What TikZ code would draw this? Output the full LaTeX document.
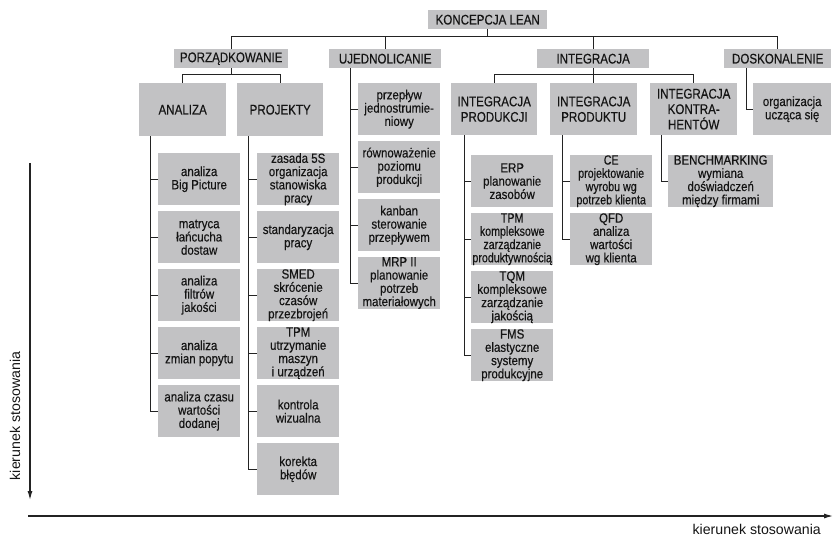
\documentclass[tikz,border=0pt]{standalone}
\usepackage{fontspec}
\setmainfont{Liberation Sans}[FakeStretch=0.86,FakeBold=0.3]
\newfontfamily\narrowfont{Liberation Sans}[FakeStretch=0.80,FakeBold=0.3]
\newfontfamily\capsfont{Liberation Sans}[FakeStretch=0.83,FakeBold=0.3]
\newfontfamily\lblfont{Liberation Sans}
\usetikzlibrary{arrows.meta,calc}
\definecolor{boxgray}{RGB}{194,194,196}
\definecolor{ink}{RGB}{20,20,20}
\definecolor{linec}{RGB}{35,35,35}
\begin{document}
\begin{tikzpicture}[x=1bp,y=-1bp,
  box/.style={fill=boxgray, draw=none, anchor=north west, inner sep=0pt, align=center,
     text=ink, font=\fontsize{13.4}{13.3}\selectfont},
  topbox/.style={box, font=\capsfont\fontsize{14}{14}\selectfont},
  capbox/.style={box, font=\capsfont\fontsize{14}{15.5}\selectfont},
  conn/.style={draw=linec, line width=1bp},
  axis/.style={draw=linec, line width=1.1bp, -{Latex[length=9bp,width=5bp]}},
  lbl/.style={text=ink, inner sep=0pt, font=\lblfont\fontsize{14.2}{15}\selectfont}]
\useasboundingbox (0,0) rectangle (833,539);
% top levels
\node[topbox, minimum width=119bp, minimum height=19bp] (k) at (428,10) {KONCEPCJA LEAN};
\node[topbox, minimum width=114bp, minimum height=19bp] (p) at (174,49) {PORZĄDKOWANIE};
\node[topbox, minimum width=112bp, minimum height=19bp] (u) at (329,49) {UJEDNOLICANIE};
\node[topbox, minimum width=112bp, minimum height=19bp] (i) at (537,49) {INTEGRACJA};
\node[topbox, minimum width=107bp, minimum height=19bp] (d) at (724,49) {DOSKONALENIE};
% second level
\node[topbox, minimum width=87bp, minimum height=53bp] (a) at (139,83) {ANALIZA};
\node[topbox, minimum width=86bp, minimum height=53bp] (pr) at (237,83) {PROJEKTY};
\node[capbox, minimum width=86bp, minimum height=52bp] (i1) at (451,83) {INTEGRACJA\\PRODUKCJI};
\node[capbox, minimum width=87bp, minimum height=52bp] (i2) at (550,83) {INTEGRACJA\\PRODUKTU};
\node[capbox, minimum width=87bp, minimum height=52bp] (i3) at (650,83) {INTEGRACJA\\KONTRA-\\HENTÓW};
\node[box, minimum width=78bp, minimum height=52bp] (d1) at (753,83) {organizacja\\ucząca się};
% UJEDNOLICANIE column
\node[box, minimum width=82bp, minimum height=52bp] (u1) at (358,83) {przepływ\\jednostrumie-\\niowy};
\node[box, minimum width=82bp, minimum height=52bp] (u2) at (358,141) {równoważenie\\poziomu\\produkcji};
\node[box, minimum width=82bp, minimum height=52bp] (u3) at (358,199) {kanban\\sterowanie\\przepływem};
\node[box, minimum width=82bp, minimum height=51bp] (u4) at (358,257) {MRP II\\planowanie\\potrzeb\\materiałowych};
% ANALIZA column
\node[box, minimum width=82bp, minimum height=52bp] (a1) at (158,153) {analiza\\Big Picture};
\node[box, minimum width=82bp, minimum height=52bp] (a2) at (158,211) {matryca\\łańcucha\\dostaw};
\node[box, minimum width=82bp, minimum height=52bp] (a3) at (158,269) {analiza\\filtrów\\jakości};
\node[box, minimum width=82bp, minimum height=52bp] (a4) at (158,327) {analiza\\zmian popytu};
\node[box, minimum width=82bp, minimum height=52bp] (a5) at (158,385) {analiza czasu\\wartości\\dodanej};
% PROJEKTY column
\node[box, minimum width=82bp, minimum height=52bp] (p1) at (257,153) {zasada 5S\\organizacja\\stanowiska\\pracy};
\node[box, minimum width=82bp, minimum height=52bp] (p2) at (257,211) {standaryzacja\\pracy};
\node[box, minimum width=82bp, minimum height=52bp] (p3) at (257,269) {SMED\\skrócenie\\czasów\\przezbrojeń};
\node[box, minimum width=82bp, minimum height=52bp] (p4) at (257,327) {TPM\\utrzymanie\\maszyn\\i urządzeń};
\node[box, minimum width=82bp, minimum height=52bp] (p5) at (257,385) {kontrola\\wizualna};
\node[box, minimum width=82bp, minimum height=52bp] (p6) at (257,443) {korekta\\błędów};
% INTEGRACJA PRODUKCJI column
\node[box, minimum width=82bp, minimum height=52bp] (q1) at (471,155) {ERP\\planowanie\\zasobów};
\node[box, font=\narrowfont\fontsize{13.4}{13.3}\selectfont, minimum width=82bp, minimum height=52bp] (q2) at (471,213) {TPM\\kompleksowe\\zarządzanie\\produktywnością};
\node[box, minimum width=82bp, minimum height=52bp] (q3) at (471,271) {TQM\\kompleksowe\\zarządzanie\\jakością};
\node[box, minimum width=82bp, minimum height=52bp] (q4) at (471,329) {FMS\\elastyczne\\systemy\\produkcyjne};
% INTEGRACJA PRODUKTU column
\node[box, font=\narrowfont\fontsize{13.4}{13.3}\selectfont, minimum width=82bp, minimum height=52bp] (r1) at (570,155) {CE\\projektowanie\\wyrobu wg\\potrzeb klienta};
\node[box, minimum width=82bp, minimum height=52bp] (r2) at (570,213) {QFD\\analiza\\wartości\\wg klienta};
% KONTRAHENTOW
\node[box, minimum width=105bp, minimum height=52bp] (s1) at (668,155) {BENCHMARKING\\wymiana\\doświadczeń\\między firmami};
% top connectors
\draw[conn] (p.north) -- ++(0,-12) -| (d.north);
\draw[conn] (u.north) -- ++(0,-12);
\draw[conn] (i.north) -- ++(0,-12);
\draw[conn] (k.south) -- ++(0,8);
\draw[conn] (a.north) -- ++(0,-8) -| (pr.north);
\draw[conn] (p.south) -- ++(0,7);
\draw[conn] (i1.north) -- ++(0,-8) -| (i3.north);
\draw[conn] (i2.north) -- ++(0,-8);
\draw[conn] (i.south) -- ++(0,7);
% stems
\coordinate (sa) at ([xshift=11bp]a.south west);
\draw[conn] (sa) |- (a5.west);
\foreach \n in {a1,a2,a3,a4} \draw[conn] (\n.west) -- (\n.west -| sa);
\coordinate (sp) at ([xshift=11bp]pr.south west);
\draw[conn] (sp) |- (p6.west);
\foreach \n in {p1,p2,p3,p4,p5} \draw[conn] (\n.west) -- (\n.west -| sp);
\coordinate (su) at ([xshift=21bp]u.south west);
\draw[conn] (su) |- (u4.west);
\foreach \n in {u1,u2,u3} \draw[conn] (\n.west) -- (\n.west -| su);
\coordinate (sq) at ([xshift=13bp]i1.south west);
\draw[conn] (sq) |- (q4.west);
\foreach \n in {q1,q2,q3} \draw[conn] (\n.west) -- (\n.west -| sq);
\coordinate (sr) at ([xshift=12bp]i2.south west);
\draw[conn] (sr) |- (r2.west);
\draw[conn] (r1.west) -- (r1.west -| sr);
\coordinate (ss) at ([xshift=11bp]i3.south west);
\draw[conn] (ss) |- (s1.west);
\coordinate (sd) at ([xshift=22bp]d.south west);
\draw[conn] (sd) |- (d1.west);
% axes
\coordinate (va) at (30,163);
\coordinate (vb) at (30,500);
\draw[axis] (va) -- (vb);
\coordinate (ha) at (28,516);
\coordinate (hb) at (833,516);
\draw[axis] (ha) -- (hb);
\node[lbl, rotate=90] (vl) at (15,416) {kierunek stosowania};
\node[lbl, anchor=east] (hl) at (821,529) {kierunek stosowania};
\end{tikzpicture}
\end{document}
